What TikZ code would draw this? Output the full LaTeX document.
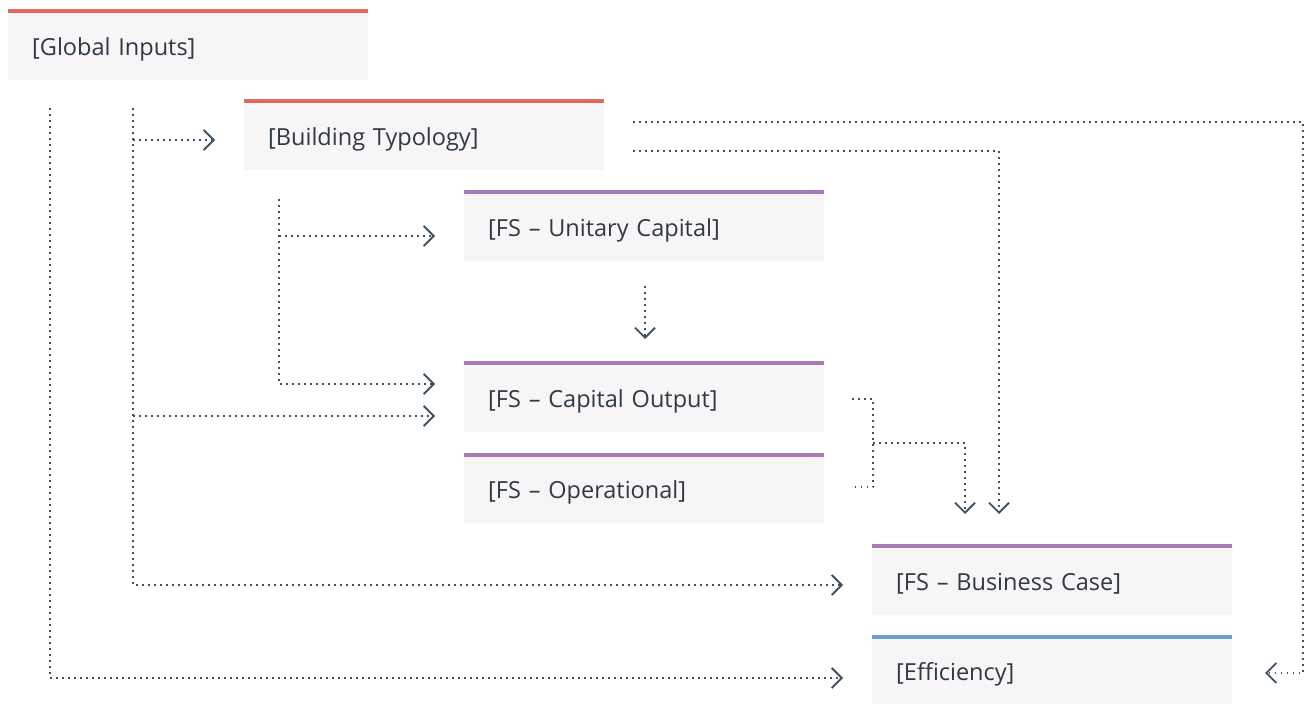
\documentclass[tikz,border=0pt]{standalone}
\usepackage{fontspec}
\setmainfont{Open Sans}
\usetikzlibrary{arrows.meta}
\definecolor{boxfill}{HTML}{F7F5F6}
\definecolor{barred}{HTML}{E06B5E}
\definecolor{barpurple}{HTML}{A87BB4}
\definecolor{barblue}{HTML}{6A9FD2}
\definecolor{txt}{HTML}{2E3A46}
\definecolor{linkc}{HTML}{3F5064}
\begin{document}
\begin{tikzpicture}[x=1pt,y=-1pt,
  box/.style={fill=boxfill, minimum width=360pt, minimum height=71pt,
    text width=312pt, inner xsep=24pt, inner ysep=0pt, align=left,
    text height=27pt, text depth=6pt, anchor=north west,
    font=\fontsize{23.5}{28}\selectfont, text=txt},
  link/.style={draw=linkc, line width=1.5pt, dash pattern=on 1.5pt off 4.5pt},
  tip/.style={-{Straight Barb[length=10pt,width=20pt,line width=1.8pt]}}]
\useasboundingbox (0,0) rectangle (1306,704);

% boxes
\node[box] (gi) at (8,9) {[Global Inputs]};
\node[box] (bt) at (244,99) {[Building Typology]};
\node[box] (uc) at (464,190) {[FS – Unitary Capital]};
\node[box] (co) at (464,361) {[FS – Capital Output]};
\node[box, minimum height=70pt] (op) at (464,453) {[FS – Operational]};
\node[box] (bc) at (872,544) {[FS – Business Case]};
\node[box, minimum height=69pt] (ef) at (872,635) {[Efficiency]};

% coloured top bars
\fill[barred] (gi.north west) rectangle ([shift={(0,4)}]gi.north east);
\fill[barred] (bt.north west) rectangle ([shift={(0,4)}]bt.north east);
\fill[barpurple] (uc.north west) rectangle ([shift={(0,4)}]uc.north east);
\fill[barpurple] (co.north west) rectangle ([shift={(0,4)}]co.north east);
\fill[barpurple] (op.north west) rectangle ([shift={(0,4)}]op.north east);
\fill[barpurple] (bc.north west) rectangle ([shift={(0,4)}]bc.north east);
\fill[barblue] (ef.north west) rectangle ([shift={(0,4)}]ef.north east);

% connector end points
\coordinate (gA) at (50,108);
\coordinate (gB) at (133,108);
\coordinate (gBbt) at (133,140);
\coordinate (gBco) at (133,416);
\coordinate (btA) at (279,199);
\coordinate (btAuc) at (279,236);
\coordinate (ucA) at (645,286);
\coordinate (btR1) at (633,122);
\coordinate (btR2) at (633,151);
\coordinate (coR) at (852,399);
\coordinate (opR) at (852,487);
\coordinate (jn) at (873,443);

\coordinate (toBt) at (215,140);
\coordinate (toUc) at (435,236);
\coordinate (toCo1) at (435,384);
\coordinate (toCo2) at (435,416);
\coordinate (toCo3) at (645,339);
\coordinate (toBc1) at (843,585);
\coordinate (toBc2) at (965,514);
\coordinate (toBc3) at (999,514);
\coordinate (toEf1) at (843,678);
\coordinate (toEf2) at (1265,673);

% Global Inputs
\draw[link,tip] (gA) |- (toEf1);
\draw[link,tip] (gB) |- (toBc1);
\draw[link,tip] (gBbt) -- (toBt);
\draw[link,tip] (gBco) -- (toCo2);

% Building Typology
\draw[link,tip] (btA) |- (toCo1);
\draw[link,tip] (btAuc) -- (toUc);
\draw[link,tip] (btR1) -- (1303,122) |- (toEf2);
\draw[link,tip] (btR2) -| (toBc3);

% Unitary Capital
\draw[link,tip] (ucA) -- (toCo3);

% Capital Output and Operational
\draw[link] (coR) -- (873,399) -- (873,487) -- (opR);
\draw[link,tip] (jn) -| (toBc2);
\end{tikzpicture}
\end{document}
